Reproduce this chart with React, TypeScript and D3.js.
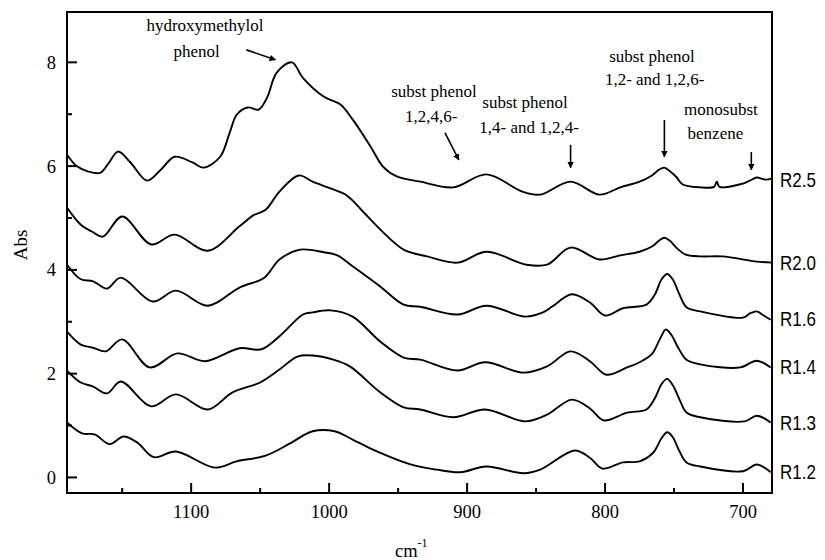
import React from "react";
import * as d3 from "d3";

// ---- Data (wavenumber cm^-1, absorbance) ----
const R25: [number, number][] = [
  [1190, 6.22], [1183, 6.0], [1175, 5.9], [1166, 5.87], [1160, 6.05], [1153, 6.28], [1144, 6.07],
  [1132, 5.72], [1122, 5.93], [1112, 6.18], [1099, 6.07], [1091, 5.97], [1079, 6.18], [1072, 6.65],
  [1067, 6.99], [1059, 7.13], [1051, 7.09], [1045, 7.32], [1038, 7.8], [1027, 8.0], [1019, 7.7],
  [1004, 7.34], [992, 7.19], [983, 6.9], [970, 6.38], [961, 5.99], [951, 5.8], [934, 5.7], [910, 5.59],
  [886, 5.84], [860, 5.51], [847, 5.45], [825, 5.7], [804, 5.45], [789, 5.59], [775, 5.7], [766, 5.82],
  [761, 5.93], [757, 5.97], [753, 5.9], [748, 5.78], [744, 5.65], [731, 5.59], [721, 5.6], [719, 5.7],
  [717, 5.6], [702, 5.65], [695, 5.72], [690, 5.78], [684, 5.74], [679, 5.76],
];
const R20: [number, number][] = [
  [1190, 5.2], [1180, 4.87], [1172, 4.74], [1164, 4.64], [1150, 5.03], [1129, 4.49], [1112, 4.68],
  [1088, 4.37], [1065, 4.84], [1055, 5.05], [1046, 5.16], [1036, 5.51], [1022, 5.82], [1012, 5.7],
  [999, 5.57], [987, 5.43], [975, 5.11], [963, 4.78], [946, 4.39], [929, 4.26], [907, 4.14], [886, 4.35],
  [857, 4.1], [842, 4.1], [825, 4.43], [804, 4.2], [789, 4.28], [775, 4.35], [766, 4.45], [761, 4.56],
  [757, 4.62], [753, 4.56], [748, 4.42], [742, 4.3], [731, 4.26], [715, 4.26], [690, 4.16], [679, 4.14],
];
const R16: [number, number][] = [
  [1190, 4.1], [1180, 3.82], [1171, 3.78], [1161, 3.64], [1151, 3.85], [1128, 3.39], [1111, 3.6],
  [1088, 3.31], [1065, 3.66], [1047, 3.85], [1036, 4.2], [1021, 4.39], [1004, 4.34], [994, 4.28],
  [983, 4.07], [963, 3.68], [946, 3.33], [934, 3.29], [907, 3.14], [886, 3.31], [858, 3.1], [845, 3.18],
  [838, 3.3], [824, 3.53], [811, 3.37], [800, 3.12], [787, 3.26], [770, 3.33], [764, 3.52], [759, 3.82],
  [755, 3.92], [751, 3.82], [746, 3.52], [741, 3.28], [731, 3.2], [700, 3.08], [695, 3.16], [690, 3.2],
  [685, 3.12], [680, 3.04],
];
const R14: [number, number][] = [
  [1190, 2.81], [1180, 2.56], [1171, 2.5], [1162, 2.43], [1150, 2.66], [1130, 2.12], [1110, 2.39],
  [1090, 2.24], [1065, 2.49], [1049, 2.47], [1036, 2.72], [1019, 3.14], [1012, 3.18], [999, 3.22],
  [983, 3.1], [963, 2.62], [946, 2.31], [934, 2.27], [907, 2.06], [887, 2.22], [859, 2.02], [842, 2.14],
  [825, 2.43], [811, 2.24], [799, 1.98], [784, 2.12], [775, 2.22], [766, 2.38], [760, 2.68], [756, 2.85],
  [752, 2.75], [747, 2.5], [741, 2.27], [731, 2.18], [702, 2.12], [690, 2.25], [680, 2.12],
];
const R13: [number, number][] = [
  [1190, 2.06], [1180, 1.83], [1171, 1.75], [1161, 1.62], [1151, 1.85], [1129, 1.37], [1111, 1.6],
  [1088, 1.31], [1070, 1.64], [1050, 1.83], [1036, 2.08], [1023, 2.33], [1012, 2.35], [997, 2.27],
  [985, 2.14], [963, 1.64], [946, 1.35], [934, 1.31], [910, 1.16], [887, 1.31], [858, 1.08], [842, 1.21],
  [824, 1.5], [811, 1.33], [801, 1.1], [784, 1.25], [770, 1.31], [764, 1.52], [759, 1.8], [755, 1.9],
  [751, 1.78], [746, 1.5], [741, 1.25], [731, 1.16], [699, 1.08], [690, 1.19], [680, 1.06],
];
const R12: [number, number][] = [
  [1190, 1.06], [1179, 0.85], [1170, 0.83], [1159, 0.64], [1149, 0.79], [1139, 0.67], [1127, 0.39],
  [1111, 0.5], [1083, 0.19], [1067, 0.31], [1046, 0.42], [1028, 0.66], [1012, 0.89], [996, 0.89],
  [983, 0.73], [967, 0.52], [941, 0.25], [922, 0.15], [905, 0.1], [886, 0.21], [859, 0.08], [847, 0.15],
  [822, 0.52], [811, 0.38], [802, 0.17], [787, 0.29], [775, 0.31], [765, 0.48], [759, 0.76], [755, 0.87],
  [751, 0.78], [746, 0.5], [741, 0.29], [731, 0.21], [700, 0.12], [690, 0.25], [680, 0.1],
];

const seriesList = [R25, R20, R16, R14, R13, R12];
const seriesNames = ["R2.5", "R2.0", "R1.6", "R1.4", "R1.3", "R1.2"];
const seriesLabelY = [5.75, 4.15, 3.08, 2.15, 1.07, 0.12];

const xMajor = [1100, 1000, 900, 800, 700];
const xMinor = [1150, 1050, 950, 850, 750];
const yMajor = [0, 2, 4, 6, 8];
const yMinor = [1, 3, 5, 7];

const annotLines = [
  ["hydroxymethylol", "phenol"],
  ["subst phenol", "1,2,4,6-"],
  ["subst phenol", "1,4- and 1,2,4-"],
  ["subst phenol", "1,2- and 1,2,6-"],
  ["monosubst", "benzene"],
];
const annotCenters: [number, number][][] = [
  [[1090, 8.61], [1096, 8.11]],
  [[924, 7.33], [926, 6.85]],
  [[858, 7.12], [855, 6.64]],
  [[766, 8.0], [764, 7.57]],
  [[716, 6.99], [720, 6.52]],
];
const arrows: [[number, number], [number, number]][] = [
  [[1060, 8.24], [1039, 8.05]],
  [[916, 6.64], [906, 6.12]],
  [[825, 6.41], [825, 5.97]],
  [[757, 6.89], [757, 6.18]],
  [[694, 6.27], [694, 5.93]],
];

const W = 825;
const H = 560;
const L = 67, R = 772, T = 12, B = 493;

export default function App() {
  const x = d3.scaleLinear().domain([1190, 679]).range([L, R]);
  const y = d3.scaleLinear().domain([-0.3, 8.97]).range([B, T]);
  const line = d3
    .line<[number, number]>()
    .x((d) => x(d[0]))
    .y((d) => y(d[1]))
    .curve(d3.curveCatmullRom.alpha(0.5));

  const serif = "'Liberation Serif', 'Times New Roman', serif";
  const sans = "'Liberation Sans', Arial, sans-serif";

  return (
    <svg
      width={W}
      height={H}
      style={{ position: "absolute", left: 0, top: 0, background: "#fff" }}
    >
      <defs>
        <marker id="ah" viewBox="0 0 10 10" refX="9" refY="5" markerWidth="4" markerHeight="4" orient="auto">
          <path d="M0,0 L10,5 L0,10 z" fill="#000" />
        </marker>
        <clipPath id="plot">
          <rect x={L} y={T} width={R - L} height={B - T} />
        </clipPath>
      </defs>

      <g clipPath="url(#plot)">
        {seriesList.map((s, i) => (
          <path key={i} d={line(s) || ""} fill="none" stroke="#000" strokeWidth={1.9} strokeLinejoin="round" />
        ))}
      </g>

      <rect x={L} y={T} width={R - L} height={B - T} fill="none" stroke="#000" strokeWidth={2} />

      {xMajor.map((v) => (
        <g key={"xM" + v}>
          <line x1={x(v)} x2={x(v)} y1={B} y2={B - 10} stroke="#000" strokeWidth={2} />
          <text x={x(v)} y={518} textAnchor="middle" fontFamily={serif} fontSize={18.5}>
            {v}
          </text>
        </g>
      ))}
      {xMinor.map((v) => (
        <line key={"xm" + v} x1={x(v)} x2={x(v)} y1={B} y2={B - 5} stroke="#000" strokeWidth={2} />
      ))}

      {yMajor.map((v) => (
        <g key={"yM" + v}>
          <line x1={L} x2={L + 10} y1={y(v)} y2={y(v)} stroke="#000" strokeWidth={2} />
          <text x={56} y={y(v) + 6.5} textAnchor="end" fontFamily={serif} fontSize={18.5}>
            {v}
          </text>
        </g>
      ))}
      {yMinor.map((v) => (
        <line key={"ym" + v} x1={L} x2={L + 5} y1={y(v)} y2={y(v)} stroke="#000" strokeWidth={2} />
      ))}

      <text
        transform={`translate(27,245) rotate(-90)`}
        textAnchor="middle"
        fontFamily={serif}
        fontSize={19}
      >
        Abs
      </text>
      <text x={395} y={557} fontFamily={serif} fontSize={18.5}>
        cm<tspan dy={-10} fontSize={12}>-1</tspan>
      </text>

      {seriesNames.map((n, i) => (
        <text
          key={n}
          transform={`translate(780,${y(seriesLabelY[i]) + 8}) scale(1,1.2)`}
          fontFamily={sans}
          fontSize={17}
        >
          {n}
        </text>
      ))}

      {annotLines.map((lines, i) =>
        lines.map((t, j) => (
          <text
            key={i + "-" + j}
            x={x(annotCenters[i][j][0])}
            y={y(annotCenters[i][j][1])}
            textAnchor="middle"
            fontFamily={serif}
            fontSize={17}
          >
            {t}
          </text>
        ))
      )}
      {arrows.map((a, i) => (
        <line
          key={"ar" + i}
          x1={x(a[0][0])}
          y1={y(a[0][1])}
          x2={x(a[1][0])}
          y2={y(a[1][1])}
          stroke="#000"
          strokeWidth={1.6}
          markerEnd="url(#ah)"
        />
      ))}
    </svg>
  );
}
